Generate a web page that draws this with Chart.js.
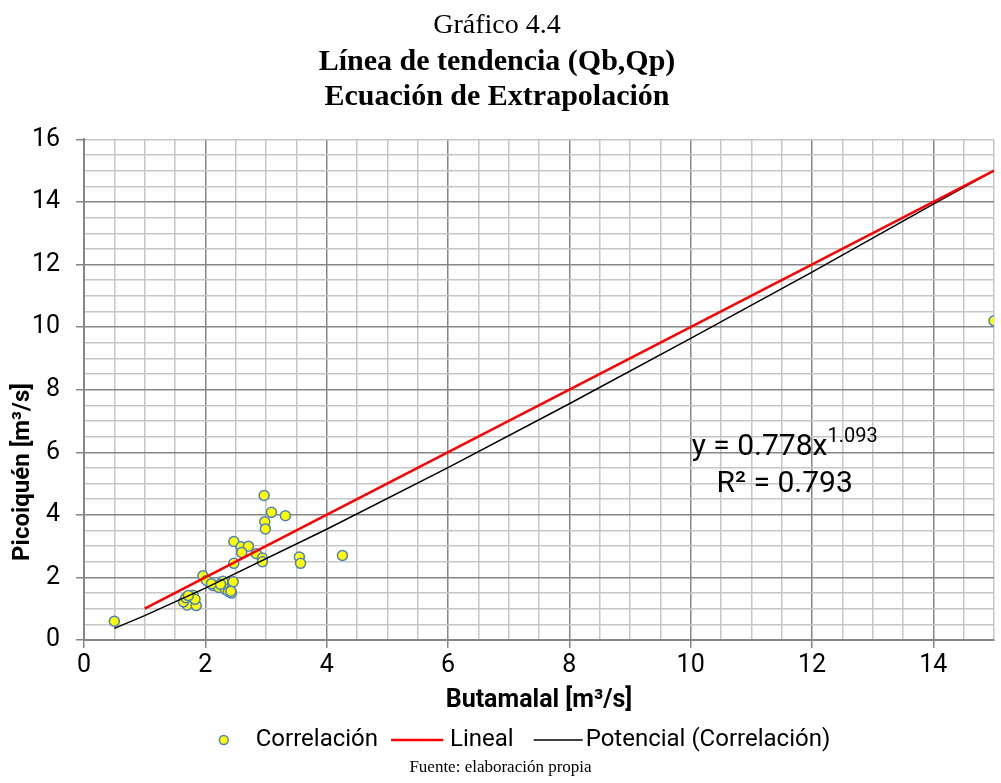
<!DOCTYPE html>
<html>
<head>
<meta charset="utf-8">
<script src="https://cdn.jsdelivr.net/npm/chart.js@4.4.1/dist/chart.umd.min.js"></script>
<style>
  html, body { margin: 0; padding: 0; background: #fff; }
  #chart { display: block; }
</style>
</head>
<body>
<canvas id="chart" width="1001" height="783"></canvas>
<script>
// Correlación (Butamalal vs Picoiquén)
const corrX = [0.5, 2.97, 3.09, 3.32, 2.98, 2.99, 2.47, 2.59, 2.71, 2.6, 2.84, 2.94, 2.94, 2.47,
    3.55, 3.57, 4.26, 1.96, 2.02, 2.29, 2.46, 2.13, 2.22, 2.33, 2.38, 2.43, 2.42, 2.1, 2.25,
    1.66, 1.7, 1.85, 1.8, 1.75, 1.64, 1.83, 1.68, 1.72, 15.0];
const corrY = [0.6, 4.62, 4.08, 3.97, 3.78, 3.55, 3.15, 2.98, 3.0, 2.8, 2.76, 2.62, 2.5, 2.45,
    2.65, 2.45, 2.7, 2.05, 1.9, 1.88, 1.86, 1.74, 1.68, 1.62, 1.55, 1.5, 1.56, 1.8, 1.78,
    1.27, 1.12, 1.1, 1.43, 1.38, 1.22, 1.3, 1.35, 1.42, 10.2];

// Lineal
const linealX = [1, 15];
const linealY = [1, 15];

// Potencial (Correlación)  y = 0.778x^1.093
const potX = [0.5, 1, 2, 4, 6, 8, 10, 12, 14, 15];
const potY = [0.37, 0.78, 1.66, 3.54, 5.51, 7.55, 9.64, 11.76, 13.93, 15.0];

const xTicks = [0, 2, 4, 6, 8, 10, 12, 14];
const yTicks = [0, 2, 4, 6, 8, 10, 12, 14, 16];

const toPoints = (xs, ys) => xs.map((x, i) => ({x: x, y: ys[i]}));

const sans = 'Roboto, sans-serif';
const serif = '"Liberation Serif", "Times New Roman", serif';

const minorGrid = '#c6c6c6';
const majorGrid = '#868686';

// little canvases used as legend symbols (text starts at x = 62 of the image)
function legendSymbol(kind) {
    const c = document.createElement('canvas');
    c.width = 62;
    c.height = 16;
    const g = c.getContext('2d');
    if (kind === 'dot') {
        g.beginPath();
        g.arc(31, 8, 4.5, 0, Math.PI * 2);
        g.fillStyle = '#ffff00';
        g.fill();
        g.lineWidth = 1.5;
        g.strokeStyle = '#4f81bd';
        g.stroke();
    } else if (kind === 'red') {
        g.beginPath();
        g.moveTo(4, 8);
        g.lineTo(56, 8);
        g.lineWidth = 2.5;
        g.strokeStyle = '#ff0000';
        g.stroke();
    } else {
        g.beginPath();
        g.moveTo(11, 8);
        g.lineTo(60, 8);
        g.lineWidth = 1.5;
        g.strokeStyle = '#000000';
        g.stroke();
    }
    return c;
}

const symbols = [legendSymbol('dot'), legendSymbol('red'), legendSymbol('black')];

const isMajor = v => Math.abs(v % 2) < 1e-9;

const extras = {
    id: 'extras',
    afterLayout(chart) {
        // legend sits a bit right of the page centre in the original
        chart.legend.left += 20;
        chart.legend.right += 20;
    },
    afterDatasetsDraw(chart) {
        const {ctx, scales} = chart;
        const cx = scales.x.getPixelForValue(11.55);
        ctx.save();
        ctx.fillStyle = '#000';
        ctx.textBaseline = 'alphabetic';
        ctx.font = '30px ' + sans;
        const base = 'y = 0.778x';
        const sup = '1.093';
        const wBase = ctx.measureText(base).width;
        ctx.font = '20px ' + sans;
        const wSup = ctx.measureText(sup).width;
        const x0 = cx - (wBase + wSup) / 2;
        const y1 = scales.y.getPixelForValue(5.9);
        ctx.textAlign = 'left';
        ctx.font = '30px ' + sans;
        ctx.fillText(base, x0, y1);
        ctx.font = '20px ' + sans;
        ctx.fillText(sup, x0 + wBase, y1 - 13);
        ctx.font = '30px ' + sans;
        ctx.textAlign = 'center';
        ctx.fillText('R² = 0.793', cx, scales.y.getPixelForValue(4.72));

        // y axis title, sits below the middle of the axis in the original
        ctx.save();
        ctx.translate(23, 472);
        ctx.rotate(-Math.PI / 2);
        ctx.font = 'bold 24px ' + sans;
        ctx.textBaseline = 'middle';
        ctx.fillText('Picoiquén [m³/s]', 0, 0);
        ctx.restore();

        ctx.font = '17px ' + serif;
        ctx.textBaseline = 'middle';
        ctx.fillText('Fuente: elaboración propia', chart.width / 2, 768);
        ctx.restore();
    }
};

new Chart(document.getElementById('chart'), {
    type: 'scatter',
    data: {
        datasets: [{
            label: 'Correlación',
            data: toPoints(corrX, corrY),
            pointRadius: 5,
            pointHoverRadius: 5,
            pointBackgroundColor: '#ffff00',
            pointBorderColor: '#4f81bd',
            pointBorderWidth: 1.5,
            order: 3
        }, {
            label: 'Lineal',
            data: toPoints(linealX, linealY),
            showLine: true,
            borderColor: '#ff0000',
            borderWidth: 2.5,
            pointRadius: 0,
            order: 1
        }, {
            label: 'Potencial (Correlación)',
            data: toPoints(potX, potY),
            showLine: true,
            borderColor: '#000000',
            borderWidth: 1.5,
            pointRadius: 0,
            order: 2
        }]
    },
    options: {
        responsive: false,
        animation: false,
        layout: {
            padding: {left: 0, right: 7, top: 0, bottom: 21}
        },
        scales: {
            x: {
                type: 'linear',
                min: 0,
                max: 15,
                afterFit: s => { s.height = 68; },
                ticks: {
                    stepSize: 0.5,
                    autoSkip: false,
                    maxRotation: 0,
                    color: '#000',
                    padding: 3,
                    font: {family: sans, size: 25},
                    callback: v => xTicks.includes(v) ? String(v) : ''
                },
                grid: {
                    color: c => isMajor(c.tick.value) ? majorGrid : minorGrid,
                    lineWidth: 1.5,
                    tickLength: 8,
                    tickColor: c => isMajor(c.tick.value) ? majorGrid : 'rgba(0,0,0,0)'
                },
                border: {color: majorGrid, width: 2},
                title: {
                    display: true,
                    text: 'Butamalal [m³/s]',
                    color: '#000',
                    padding: {top: 0, bottom: -8},
                    font: {family: sans, size: 25, weight: 'bold'}
                }
            },
            y: {
                min: 0,
                max: 16,
                afterFit: s => { s.width = 84; },
                ticks: {
                    stepSize: 0.5,
                    autoSkip: false,
                    color: '#000',
                    padding: 16,
                    font: {family: sans, size: 25},
                    callback: v => yTicks.includes(v) ? String(v) : ''
                },
                grid: {
                    color: c => (isMajor(c.tick.value) && c.tick.value !== 16) ? majorGrid : minorGrid,
                    lineWidth: 1.5,
                    tickLength: 8,
                    tickColor: c => isMajor(c.tick.value) ? majorGrid : 'rgba(0,0,0,0)'
                },
                border: {color: majorGrid, width: 2},
                title: {display: false}
            }
        },
        plugins: {
            title: {
                display: true,
                text: 'Gráfico 4.4',
                color: '#000',
                padding: {top: 9, bottom: 2},
                font: {family: serif, size: 28, weight: 'normal', lineHeight: 1.2}
            },
            subtitle: {
                display: true,
                text: ['Línea de tendencia (Qb,Qp)', 'Ecuación de Extrapolación'],
                color: '#000',
                padding: {top: 0, bottom: 24},
                font: {family: serif, size: 30, weight: 'bold', lineHeight: 1.18}
            },
            legend: {
                position: 'bottom',
                labels: {
                    usePointStyle: true,
                    pointStyleWidth: 40,
                    padding: 20,
                    color: '#000',
                    font: {family: sans, size: 24},
                    generateLabels: chart => chart.data.datasets.map((ds, i) => ({
                        text: ds.label,
                        pointStyle: symbols[i],
                        fillStyle: 'transparent',
                        strokeStyle: 'transparent',
                        lineWidth: 0,
                        hidden: false,
                        datasetIndex: i
                    }))
                }
            },
            tooltip: {enabled: false}
        }
    },
    plugins: [extras]
});
</script>
</body>
</html>
